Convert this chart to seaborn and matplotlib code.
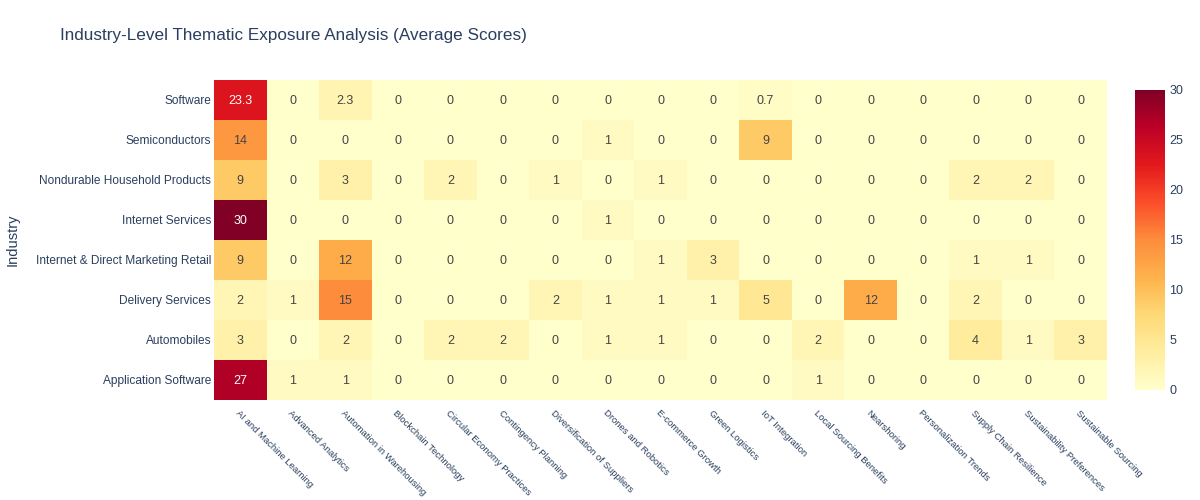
import pandas as pd
import numpy as np
import seaborn as sns
import matplotlib
matplotlib.use('Agg')
import matplotlib.pyplot as plt

# Data
industries = ['Software', 'Semiconductors', 'Nondurable Household Products', 'Internet Services',
              'Internet & Direct Marketing Retail', 'Delivery Services', 'Automobiles',
              'Application Software']
themes = ['AI and Machine Learning', 'Advanced Analytics', 'Automation in Warehousing',
          'Blockchain Technology', 'Circular Economy Practices', 'Contingency Planning',
          'Diversification of Suppliers', 'Drones and Robotics', 'E-commerce Growth',
          'Green Logistics', 'IoT Integration', 'Local Sourcing Benefits', 'Nearshoring',
          'Personalization Trends', 'Supply Chain Resilience', 'Sustainability Preferences',
          'Sustainable Sourcing']

software = [23.3, 0, 2.3, 0, 0, 0, 0, 0, 0, 0, 0.7, 0, 0, 0, 0, 0, 0]
semiconductors = [14, 0, 0, 0, 0, 0, 0, 1, 0, 0, 9, 0, 0, 0, 0, 0, 0]
nondurable = [9, 0, 3, 0, 2, 0, 1, 0, 1, 0, 0, 0, 0, 0, 2, 2, 0]
internet_services = [30, 0, 0, 0, 0, 0, 0, 1, 0, 0, 0, 0, 0, 0, 0, 0, 0]
internet_retail = [9, 0, 12, 0, 0, 0, 0, 0, 1, 3, 0, 0, 0, 0, 1, 1, 0]
delivery = [2, 1, 15, 0, 0, 0, 2, 1, 1, 1, 5, 0, 12, 0, 2, 0, 0]
automobiles = [3, 0, 2, 0, 2, 2, 0, 1, 1, 0, 0, 2, 0, 0, 4, 1, 3]
app_software = [27, 1, 1, 0, 0, 0, 0, 0, 0, 0, 0, 1, 0, 0, 0, 0, 0]

scores = pd.DataFrame([software, semiconductors, nondurable, internet_services,
                       internet_retail, delivery, automobiles, app_software],
                      index=industries, columns=themes)

sns.set_style('white')
plt.rcParams['font.family'] = ['Liberation Sans', 'DejaVu Sans']
txt_col = '#2a3f5f'

fig = plt.figure(figsize=(12, 5), dpi=100)
ax = fig.add_axes([214/1200, 1 - 400/500, (1107-214)/1200, 320/500])
cax = fig.add_axes([1135/1200, 1 - 390/500, 30/1200, 300/500])

sns.heatmap(scores, ax=ax, cbar_ax=cax, cmap='YlOrRd', vmin=0, vmax=30,
            annot=False, linewidths=0)

# cell labels, white on the dark cells
for i, ind in enumerate(industries):
    for j, th in enumerate(themes):
        v = scores.loc[ind, th]
        colour = 'white' if v > 20 else '#444444'
        ax.text(j + 0.5, i + 0.52, f'{v:g}', ha='center', va='center', fontsize=9, color=colour)

ax.set_xticks(np.arange(len(themes)) + 0.5)
ax.set_xticklabels(themes, rotation=-45, ha='left', rotation_mode='anchor',
                   fontsize=6.8, color=txt_col)
ax.set_yticks(np.arange(len(industries)) + 0.52)
ax.set_yticklabels(industries, rotation=0, fontsize=8.6, color=txt_col, va='center')
ax.tick_params(axis='both', length=0, pad=2)
ax.tick_params(axis='x', pad=6)
ax.set_xlabel('')
ax.set_ylabel('')

fig.text(13/1200, 1 - 240/500, 'Industry', rotation=90, ha='center', va='center',
         fontsize=10.5, color=txt_col)

cax.tick_params(length=0, labelsize=9, labelcolor=txt_col, pad=3)
cax.set_yticks([0, 5, 10, 15, 20, 25, 30])
for s in cax.spines.values():
    s.set_visible(False)

fig.text(60/1200, 1 - 35/500, 'Industry-Level Thematic Exposure Analysis (Average Scores)',
         ha='left', va='center', fontsize=12.3, color=txt_col)

plt.savefig('out.png', dpi=100)
